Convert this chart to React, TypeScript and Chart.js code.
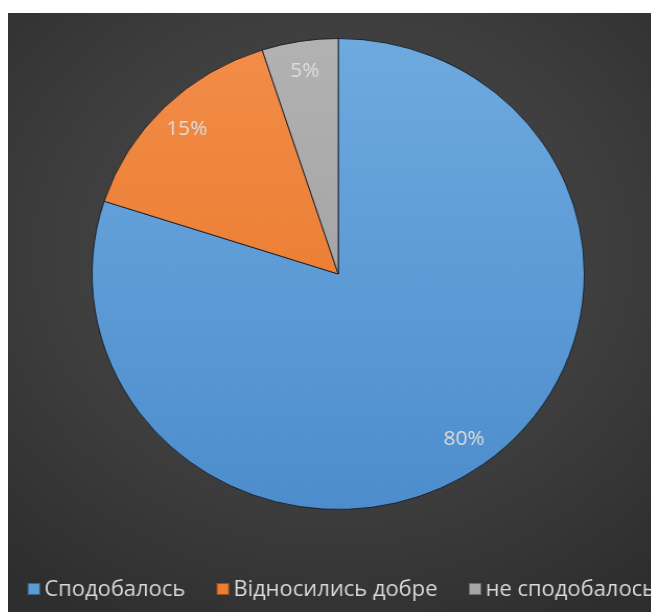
import React, { useEffect, useRef } from 'react';
import { Chart, registerables } from 'chart.js';

Chart.register(...registerables);

const categories = ['Сподобалось', 'Відносились добре', 'не сподобалось'];
const values = [80, 15, 5];
const baseColors = ['#5b9bd5', '#ed7d31', '#a5a5a5'];
const topColors = ['#6eaadf', '#f28d49', '#b2b2b2'];
const bottomColors = ['#4d8dcd', '#e77222', '#999999'];

const FONT = '"Open Sans", "Noto Sans", sans-serif';

const sliceLabels = {
  id: 'sliceLabels',
  afterDatasetsDraw(chart: any) {
    const ctx = chart.ctx;
    const meta = chart.getDatasetMeta(0);
    const data = chart.data.datasets[0].data as number[];
    const total = data.reduce((a, b) => a + b, 0);
    ctx.save();
    ctx.font = `20px ${FONT}`;
    ctx.fillStyle = '#dedede';
    ctx.textAlign = 'center';
    ctx.textBaseline = 'middle';
    meta.data.forEach((arc: any, i: number) => {
      const p = arc.getProps(['x', 'y', 'startAngle', 'endAngle', 'outerRadius'], true);
      const mid = (p.startAngle + p.endAngle) / 2;
      const r = p.outerRadius * 0.87;
      ctx.fillText(Math.round((data[i] / total) * 100) + '%', p.x + Math.cos(mid) * r, p.y + Math.sin(mid) * r);
    });
    ctx.restore();
  },
};

// Bottom legend drawn on the chart canvas from the chart's own labels/colours
const bottomLegend = {
  id: 'bottomLegend',
  afterDraw(chart: any) {
    const ctx = chart.ctx;
    const labels = chart.data.labels as string[];
    const box = 12;
    const gapBoxText = 4;
    const itemGap = 30;
    const cy = 576;
    ctx.save();
    ctx.font = `21px ${FONT}`;
    ctx.textBaseline = 'middle';
    ctx.textAlign = 'left';
    const widths = labels.map((t) => ctx.measureText(t).width);
    const total = widths.reduce((a, w) => a + box + gapBoxText + w, 0) + itemGap * (labels.length - 1);
    const centerX = (chart.chartArea.left + chart.chartArea.right) / 2 + 3;
    let x = centerX - total / 2;
    labels.forEach((t, i) => {
      ctx.fillStyle = baseColors[i];
      ctx.fillRect(x, cy - box / 2, box, box);
      ctx.strokeStyle = 'rgba(0,0,0,0.35)';
      ctx.lineWidth = 1;
      ctx.strokeRect(x + 0.5, cy - box / 2 + 0.5, box - 1, box - 1);
      x += box + gapBoxText;
      ctx.fillStyle = '#d9d9d9';
      ctx.fillText(t, x, cy + 1);
      x += widths[i] + itemGap;
    });
    ctx.restore();
  },
};

export default function App() {
  const ref = useRef<HTMLCanvasElement>(null);
  useEffect(() => {
    if (!ref.current) return;
    const chart = new Chart(ref.current, {
      type: 'pie',
      data: {
        labels: categories,
        datasets: [
          {
            data: values,
            backgroundColor: (c: any) => {
              const area = c.chart.chartArea;
              const i = c.dataIndex;
              if (!area || i === undefined) return baseColors[i ?? 0];
              const g = c.chart.ctx.createLinearGradient(0, area.top, 0, area.bottom);
              g.addColorStop(0, topColors[i]);
              g.addColorStop(1, bottomColors[i]);
              return g;
            },
            borderColor: 'rgba(20,25,35,0.85)',
            borderWidth: 1,
          },
        ],
      },
      options: {
        responsive: false,
        maintainAspectRatio: false,
        animation: false,
        events: [],
        layout: { padding: { top: 25, left: 11, right: 0, bottom: 102 } },
        plugins: {
          tooltip: { enabled: false },
          legend: { display: false },
        },
      },
      plugins: [sliceLabels, bottomLegend],
    });
    return () => chart.destroy();
  }, []);

  return (
    <div style={{ paddingTop: 5 }}>
      <div
        style={{
          width: 649,
          height: 599,
          overflow: 'hidden',
          background: 'radial-gradient(ellipse 75% 70% at 50% 40%, #4b4b4b 0%, #3e3e3e 55%, #2e2e2e 100%)',
        }}
      >
        <canvas
          ref={ref}
          width={621}
          height={599}
          style={{ display: 'block', width: 621, height: 599, transform: 'scaleX(1.045)', transformOrigin: '0 0' }}
        />
      </div>
    </div>
  );
}
